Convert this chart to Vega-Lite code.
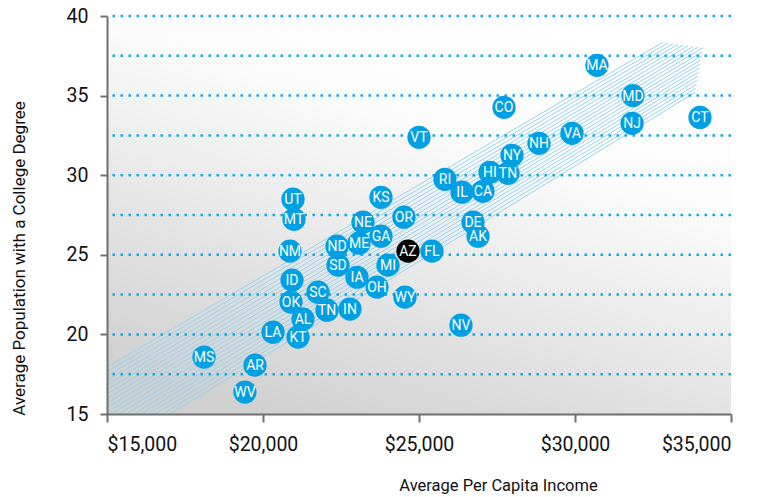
{
  "$schema": "https://vega.github.io/schema/vega-lite/v6.json",
  "width": 624,
  "height": 398,
  "autosize": {"type": "none"},
  "padding": {"left": 107, "top": 16, "right": 37, "bottom": 83},
  "background": "#ffffff",
  "config": {
    "view": {"stroke": null},
    "font": "Roboto"
  },
  "layer": [
    {
      "data": {"values": [{"x0": 15000, "x1": 35000, "y0": 15, "y1": 40}]},
      "mark": {
        "type": "rect",
        "color": {
          "gradient": "linear",
          "x1": 0.75, "y1": 0, "x2": 0.25, "y2": 1,
          "stops": [
            {"offset": 0, "color": "#ffffff"},
            {"offset": 0.3, "color": "#fcfcfc"},
            {"offset": 1, "color": "#d0d0d0"}
          ]
        }
      },
      "encoding": {
        "x": {
          "field": "x0", "type": "quantitative",
          "scale": {"domain": [15000, 35000], "nice": false, "zero": false},
          "axis": {
            "title": "Average Per Capita Income",
            "values": [15000, 20000, 25000, 30000, 35000],
            "format": "$,.0f",
            "grid": false,
            "domainColor": "#6f6f6f",
            "domainWidth": 2,
            "tickColor": "#6f6f6f",
            "tickWidth": 2,
            "tickSize": 8,
            "labelPadding": 13,
            "labelColor": "#111111",
            "labelFontSize": 19.5,
            "labelFont": "Roboto",
            "titleColor": "#111111",
            "titleFontSize": 16.5,
            "titleFont": "Roboto",
            "titleFontWeight": "normal",
            "titleX": 391,
            "titleY": 76,
            "titleBaseline": "alphabetic",
            "titleAlign": "center",
            "zindex": 1
          }
        },
        "x2": {"field": "x1"},
        "y": {
          "field": "y0", "type": "quantitative",
          "scale": {"domain": [15, 40], "nice": false, "zero": false},
          "axis": {
            "title": "Average Population with a College Degree",
            "values": [15, 20, 25, 30, 35, 40],
            "grid": false,
            "domainColor": "#6f6f6f",
            "domainWidth": 2,
            "tickColor": "#6f6f6f",
            "tickWidth": 2,
            "tickSize": 7,
            "labelPadding": 12,
            "labelColor": "#111111",
            "labelFontSize": 19.5,
            "labelFont": "Roboto",
            "titleColor": "#111111",
            "titleFontSize": 17,
            "titleFont": "Roboto",
            "titleFontWeight": "normal",
            "titleAngle": -90,
            "titleX": -83,
            "titleY": 242,
            "titleBaseline": "alphabetic",
            "titleAlign": "center",
            "zindex": 1
          }
        },
        "y2": {"field": "y1"}
      }
    },
    {
      "data": {"values": [
        {"xa": 15000, "ya": 17.95, "xb": 32820, "yb": 38.35},
        {"xa": 15000, "ya": 17.667, "xb": 32980, "yb": 38.31},
        {"xa": 15000, "ya": 17.385, "xb": 33140, "yb": 38.26},
        {"xa": 15000, "ya": 17.102, "xb": 33300, "yb": 38.21},
        {"xa": 15000, "ya": 16.82, "xb": 33460, "yb": 38.17},
        {"xa": 15000, "ya": 16.537, "xb": 33620, "yb": 38.13},
        {"xa": 15000, "ya": 16.254, "xb": 33780, "yb": 38.08},
        {"xa": 15000, "ya": 15.972, "xb": 33940, "yb": 38.04},
        {"xa": 15000, "ya": 15.689, "xb": 34100, "yb": 38.0},
        {"xa": 15000, "ya": 15.406, "xb": 34078, "yb": 37.75},
        {"xa": 15000, "ya": 15.124, "xb": 34054, "yb": 37.49},
        {"xa": 15000, "ya": 14.841, "xb": 34031, "yb": 37.23},
        {"xa": 15000, "ya": 14.558, "xb": 34008, "yb": 36.99},
        {"xa": 15000, "ya": 14.276, "xb": 33985, "yb": 36.73},
        {"xa": 15000, "ya": 13.993, "xb": 33961, "yb": 36.47},
        {"xa": 15000, "ya": 13.71, "xb": 33938, "yb": 36.22},
        {"xa": 15000, "ya": 13.428, "xb": 33915, "yb": 35.97},
        {"xa": 15000, "ya": 13.145, "xb": 33892, "yb": 35.71},
        {"xa": 15000, "ya": 12.863, "xb": 33868, "yb": 35.45},
        {"xa": 15000, "ya": 12.58, "xb": 33845, "yb": 35.2}
      ]},
      "mark": {"type": "rule", "color": "#94d3f2", "strokeWidth": 1, "clip": true},
      "encoding": {
        "x": {"field": "xa", "type": "quantitative"},
        "y": {"field": "ya", "type": "quantitative"},
        "x2": {"field": "xb"},
        "y2": {"field": "yb"}
      }
    },
    {
      "data": {"values": [{"g": 17.5}, {"g": 20}, {"g": 22.5}, {"g": 25}, {"g": 27.5}, {"g": 30}, {"g": 32.5}, {"g": 35}, {"g": 37.5}, {"g": 40}]},
      "mark": {"type": "rule", "color": "#1aa3e0", "strokeWidth": 2.5, "strokeDash": [2.5, 5.5], "strokeCap": "butt"},
      "encoding": {
        "y": {"field": "g", "type": "quantitative"}
      }
    },
    {
      "data": {"values": [
        {"state": "MA", "income": 30705, "degree": 36.9, "grp": "other"},
        {"state": "MD", "income": 31860, "degree": 35.0, "grp": "other"},
        {"state": "NJ", "income": 31830, "degree": 33.26, "grp": "other"},
        {"state": "CT", "income": 34006, "degree": 33.63, "grp": "other"},
        {"state": "CO", "income": 27724, "degree": 34.26, "grp": "other"},
        {"state": "VT", "income": 25000, "degree": 32.38, "grp": "other"},
        {"state": "VA", "income": 29904, "degree": 32.63, "grp": "other"},
        {"state": "NH", "income": 28846, "degree": 32.0, "grp": "other"},
        {"state": "NY", "income": 27981, "degree": 31.25, "grp": "other"},
        {"state": "TN", "income": 27853, "degree": 30.12, "grp": "other"},
        {"state": "HI", "income": 27276, "degree": 30.18, "grp": "other"},
        {"state": "RI", "income": 25833, "degree": 29.74, "grp": "other"},
        {"state": "IL", "income": 26378, "degree": 28.93, "grp": "other"},
        {"state": "CA", "income": 27051, "degree": 28.99, "grp": "other"},
        {"state": "DE", "income": 26731, "degree": 27.05, "grp": "other"},
        {"state": "AK", "income": 26891, "degree": 26.17, "grp": "other"},
        {"state": "FL", "income": 25417, "degree": 25.23, "grp": "other"},
        {"state": "MI", "income": 24006, "degree": 24.35, "grp": "other"},
        {"state": "WY", "income": 24551, "degree": 22.34, "grp": "other"},
        {"state": "OH", "income": 23654, "degree": 22.97, "grp": "other"},
        {"state": "IA", "income": 23013, "degree": 23.59, "grp": "other"},
        {"state": "IN", "income": 22788, "degree": 21.59, "grp": "other"},
        {"state": "TN", "income": 22051, "degree": 21.52, "grp": "other"},
        {"state": "SC", "income": 21763, "degree": 22.65, "grp": "other"},
        {"state": "KS", "income": 23782, "degree": 28.61, "grp": "other"},
        {"state": "OR", "income": 24519, "degree": 27.36, "grp": "other"},
        {"state": "NE", "income": 23205, "degree": 27.05, "grp": "other"},
        {"state": "GA", "income": 23782, "degree": 26.17, "grp": "other"},
        {"state": "ME", "income": 23077, "degree": 25.73, "grp": "other"},
        {"state": "ND", "income": 22372, "degree": 25.54, "grp": "other"},
        {"state": "SD", "income": 22404, "degree": 24.35, "grp": "other"},
        {"state": "UT", "income": 20962, "degree": 28.49, "grp": "other"},
        {"state": "MT", "income": 20994, "degree": 27.23, "grp": "other"},
        {"state": "NM", "income": 20865, "degree": 25.23, "grp": "other"},
        {"state": "ID", "income": 20930, "degree": 23.41, "grp": "other"},
        {"state": "OK", "income": 20897, "degree": 22.03, "grp": "other"},
        {"state": "AL", "income": 21282, "degree": 20.96, "grp": "other"},
        {"state": "KT", "income": 21122, "degree": 19.83, "grp": "other"},
        {"state": "LA", "income": 20321, "degree": 20.14, "grp": "other"},
        {"state": "NV", "income": 26346, "degree": 20.58, "grp": "other"},
        {"state": "MS", "income": 18109, "degree": 18.58, "grp": "other"},
        {"state": "AR", "income": 19744, "degree": 18.07, "grp": "other"},
        {"state": "WV", "income": 19423, "degree": 16.38, "grp": "other"},
        {"state": "AZ", "income": 24647, "degree": 25.23, "grp": "highlight"}
      ]},
      "layer": [
        {
          "mark": {"type": "circle", "size": 540, "opacity": 1},
          "encoding": {
            "x": {"field": "income", "type": "quantitative"},
            "y": {"field": "degree", "type": "quantitative"},
            "color": {
              "field": "grp", "type": "nominal",
              "scale": {"domain": ["other", "highlight"], "range": ["#00a0e3", "#000000"]},
              "legend": null
            }
          }
        },
        {
          "mark": {"type": "text", "color": "#ffffff", "fontSize": 14, "font": "Roboto", "align": "center", "baseline": "middle", "dy": 1},
          "encoding": {
            "x": {"field": "income", "type": "quantitative"},
            "y": {"field": "degree", "type": "quantitative"},
            "text": {"field": "state", "type": "nominal"}
          }
        }
      ]
    }
  ]
}
